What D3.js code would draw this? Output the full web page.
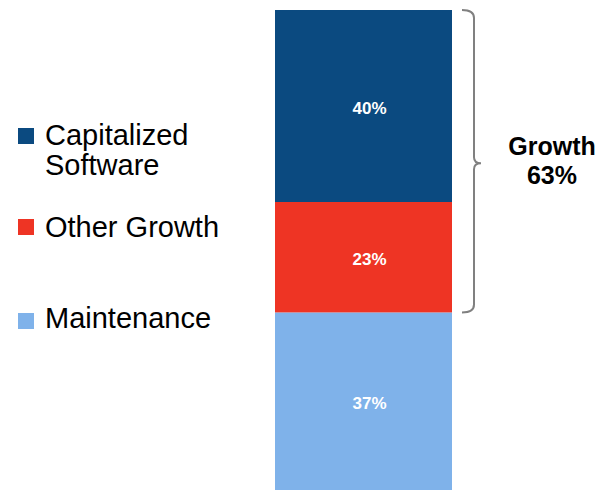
<!DOCTYPE html>
<html>
<head>
<meta charset="utf-8">
<script src="https://cdn.jsdelivr.net/npm/d3@7/dist/d3.min.js"></script>
<style>
  html, body { margin: 0; padding: 0; background: #fff; }
  svg { display: block; font-family: "Liberation Sans", Arial, sans-serif; }
</style>
</head>
<body>
<svg id="chart" width="612" height="490"></svg>
<script>
// Spending mix, stacked from the bottom up
const categories = ["Maintenance", "Other Growth", "Capitalized Software"];
const shares = [37, 23, 40];
const colors = ["#7fb2ea", "#ee3424", "#0b4a80"];
const legendLabels = [["Capitalized", "Software"], ["Other Growth"], ["Maintenance"]];
const legendColors = ["#0b4a80", "#ee3424", "#7fb2ea"];
const growthLabel = "Growth";
const growthShare = shares[1] + shares[2];

const svg = d3.select("#chart");

const y = d3.scaleLinear().domain([0, 100]).range([490, 10]);
const x = d3.scaleBand().domain(["mix"]).range([275, 452]).padding(0);

// stack layout
let acc = 0;
const segs = categories.map((c, i) => {
  const s = { cat: c, y0: acc, y1: acc + shares[i], v: shares[i], color: colors[i] };
  acc += shares[i];
  return s;
});

svg.selectAll("rect.seg").data(segs).enter().append("rect")
  .attr("class", "seg")
  .attr("x", x("mix"))
  .attr("width", x.bandwidth())
  .attr("y", d => y(d.y1))
  .attr("height", d => y(d.y0) - y(d.y1))
  .attr("fill", d => d.color);

svg.selectAll("text.val").data(segs).enter().append("text")
  .attr("class", "val")
  .attr("x", x("mix") + x.bandwidth() / 2 + 6)
  .attr("y", d => y((d.y0 + d.y1) / 2) + 8)
  .attr("text-anchor", "middle")
  .attr("fill", "#fff")
  .attr("font-weight", "bold")
  .attr("font-size", 17)
  .text(d => d.v + "%");

// curly brace spanning the growth segments
const bTop = y(100), bBot = y(shares[0]);
const bMid = (bTop + bBot) / 2 + 2;
const bx = 474, r = 8, tip = 7;
const bracePath = [
  `M${bx - 12},${bTop}`,
  `Q${bx},${bTop} ${bx},${bTop + r}`,
  `L${bx},${bMid - 6}`,
  `Q${bx},${bMid} ${bx + tip},${bMid}`,
  `Q${bx},${bMid} ${bx},${bMid + 6}`,
  `L${bx},${bBot - r}`,
  `Q${bx},${bBot} ${bx - 12},${bBot}`
].join(" ");
svg.append("path")
  .attr("d", bracePath)
  .attr("fill", "none")
  .attr("stroke", "#808080")
  .attr("stroke-width", 2);

const g = svg.append("text")
  .attr("text-anchor", "middle")
  .attr("font-weight", "bold")
  .attr("font-size", 25)
  .attr("fill", "#000");
g.append("tspan").attr("x", 552).attr("y", 155).text(growthLabel);
g.append("tspan").attr("x", 552).attr("y", 184).text(growthShare + "%");

// legend
const legendY = [128, 219, 313];
const legendBase = [145, 237, 328];
legendLabels.forEach((lines, i) => {
  svg.append("rect")
    .attr("x", 18).attr("y", legendY[i])
    .attr("width", 16).attr("height", 16)
    .attr("fill", legendColors[i]);
  const t = svg.append("text")
    .attr("font-size", 29)
    .attr("fill", "#000");
  lines.forEach((ln, j) => {
    t.append("tspan").attr("x", 45).attr("y", legendBase[i] + j * 30).text(ln);
  });
});
</script>
</body>
</html>
